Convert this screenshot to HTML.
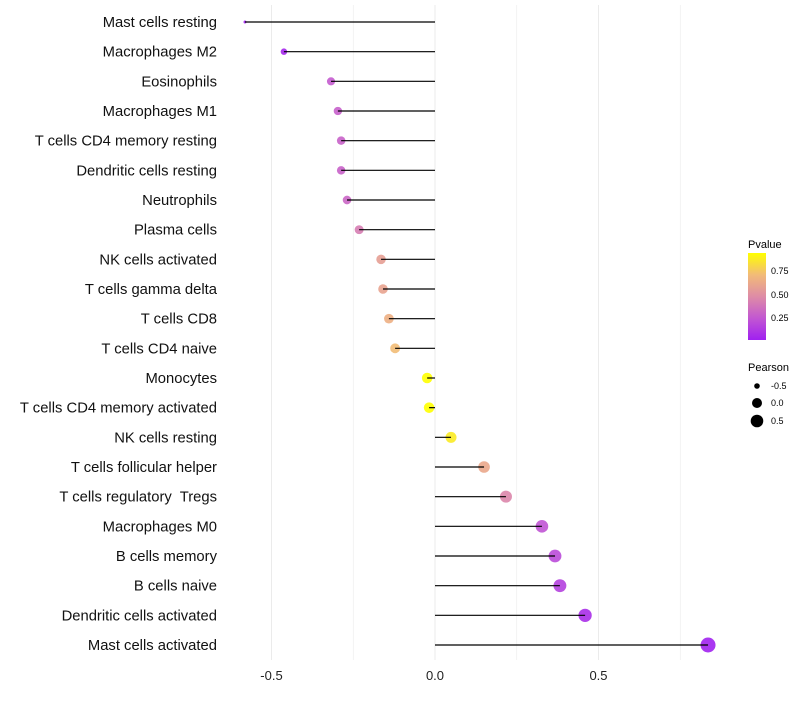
<!DOCTYPE html>
<html><head><meta charset="utf-8"><style>
body{margin:0;background:#fff;font-family:"Liberation Sans",sans-serif}
svg text{font-family:"Liberation Sans",sans-serif;white-space:pre}
</style></head><body>
<svg id="chart" width="800" height="700" xmlns="http://www.w3.org/2000/svg" xml:space="preserve">
<defs><linearGradient id="pg" x1="0" y1="1" x2="0" y2="0">
<stop offset="0" stop-color="#a020f0"/><stop offset="0.25" stop-color="#c257d2"/><stop offset="0.5" stop-color="#de8ca6"/><stop offset="0.75" stop-color="#f2bb78"/><stop offset="1" stop-color="#ffff00"/></linearGradient></defs>
<g id="grid"></g>
<g id="marks"></g>
<g id="labels"></g>
<g id="xt"></g>
<g>
<text x="748" y="248" font-size="11" fill="#000">Pvalue</text>
<rect x="748" y="253" width="18" height="87" fill="url(#pg)"/>
<text x="771" y="274" font-size="9">0.75</text><text x="771" y="298" font-size="9">0.50</text><text x="771" y="321" font-size="9">0.25</text>
</g>
<g>
<text x="748" y="371" font-size="11">Pearson</text>
<circle cx="757" cy="386" r="2.8"/><text x="771" y="389" font-size="9">-0.5</text>
<circle cx="757" cy="403" r="5"/><text x="771" y="406" font-size="9">0.0</text>
<circle cx="757" cy="421" r="6.3"/><text x="771" y="424" font-size="9">0.5</text>
</g>
</svg>
<script>
const categories=["Mast cells resting","Macrophages M2","Eosinophils","Macrophages M1","T cells CD4 memory resting","Dendritic cells resting","Neutrophils","Plasma cells","NK cells activated","T cells gamma delta","T cells CD8","T cells CD4 naive","Monocytes","T cells CD4 memory activated","NK cells resting","T cells follicular helper","T cells regulatory  Tregs","Macrophages M0","B cells memory","B cells naive","Dendritic cells activated","Mast cells activated"];
const pearson=[-0.581,-0.462,-0.318,-0.297,-0.287,-0.287,-0.269,-0.232,-0.165,-0.159,-0.141,-0.122,-0.024,-0.018,0.049,0.150,0.217,0.327,0.367,0.382,0.459,0.835];
const pvalues=[0.005,0.03,0.25,0.27,0.28,0.28,0.3,0.4,0.56,0.58,0.64,0.70,0.93,0.93,0.86,0.6,0.44,0.22,0.18,0.14,0.06,0.01];
const xTicks=[-0.5,0.0,0.5];
const xGrid=[-0.5,-0.25,0,0.25,0.5,0.75];
const NS="http://www.w3.org/2000/svg";
const xs=v=>435+v*327;
const ys=i=>22+i*(623/21);
const pmin=Math.min(...pearson),pmax=Math.max(...pearson);
const rs=v=>1.5+6*Math.sqrt((v-pmin)/(pmax-pmin));
const stops=[[0,[160,32,240]],[0.25,[194,87,210]],[0.5,[222,140,166]],[0.75,[242,187,120]],[1,[255,255,0]]];
function col(p){let t=Math.min(1,Math.max(0,p/0.93));for(let k=1;k<stops.length;k++){if(t<=stops[k][0]){const a=stops[k-1],b=stops[k],f=(t-a[0])/(b[0]-a[0]);return "rgb("+a[1].map((c,j)=>Math.round(c+(b[1][j]-c)*f)).join(",")+")";}}return "rgb(255,255,0)";}
function mk(t,at,parent){const e=document.createElementNS(NS,t);for(const k in at)e.setAttribute(k,at[k]);parent.appendChild(e);return e;}
const g=document.getElementById('grid'),m=document.getElementById('marks'),l=document.getElementById('labels'),xt=document.getElementById('xt');
xGrid.forEach(v=>{const e=mk('line',{x1:xs(v),x2:xs(v),y1:5,y2:660,stroke:'#ebebeb','stroke-width':Number.isInteger(v*2)?1:0.6},g);

});
xTicks.forEach(v=>{const e=mk('text',{x:xs(v),y:680,'text-anchor':'middle','font-size':13,fill:'#222'},xt);e.textContent=v.toFixed(1);

});
categories.forEach((c,i)=>{const y=ys(i);
const t=mk('text',{x:217,y:y+5,'text-anchor':'end','font-size':14.8,fill:'#111'},l);t.textContent=c;


const p=mk('circle',{cx:xs(pearson[i]),cy:y,r:rs(pearson[i]),fill:col(pvalues[i]),'fill-opacity':0.9},m);


const s=mk('line',{x1:xs(0),x2:xs(pearson[i]),y1:y,y2:y,stroke:'#000','stroke-width':1.2},m);

});
</script>
</body></html>
